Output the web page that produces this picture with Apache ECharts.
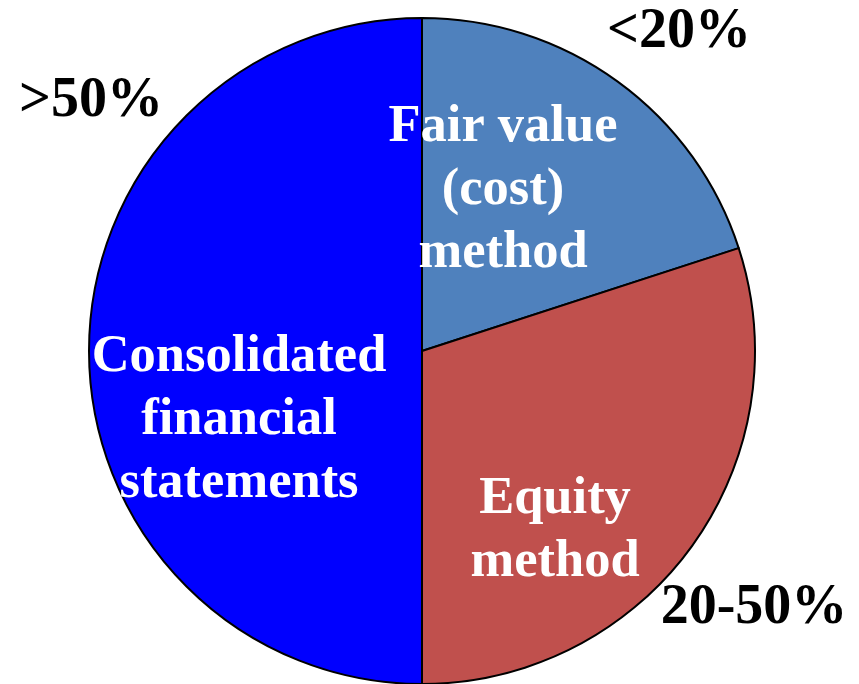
<!DOCTYPE html>
<html>
<head>
<meta charset="utf-8">
<script src="https://cdn.jsdelivr.net/npm/echarts@6/dist/echarts.min.js"></script>
<style>html,body{margin:0;padding:0;background:#fff}#c{width:859px;height:684px}</style>
</head>
<body>
<div id="c"></div>
<script>
const categories = ['Fair value\n(cost)\nmethod', 'Equity\nmethod', 'Consolidated\nfinancial\nstatements'];
const values = [20, 30, 50];
const rangeLabels = ['<20%', '20-50%', '>50%'];
const colors = ['#4F81BD', '#C0504D', '#0000FF'];

const innerPos = [[503, 190], [555, 531], [239, 420]];
const outerPos = [[679, 33], [754, 609], [91, 102]];

const chart = echarts.init(document.getElementById('c'), null, {renderer: 'canvas'});
const font = {fontFamily: 'Liberation Serif', fontWeight: 'bold', fontSize: 52.5, lineHeight: 63};
chart.setOption({
  animation: false,
  series: [
    {
      type: 'pie',
      center: [422, 351],
      radius: 333,
      startAngle: 90,
      clockwise: true,
      silent: true,
      data: categories.map((c, i) => ({name: c, value: values[i], itemStyle: {color: colors[i]}})),
      itemStyle: {borderColor: '#000', borderWidth: 2},
      label: Object.assign({show: true, position: 'inside', color: '#fff', formatter: '{b}', align: 'center'}, font),
      labelLine: {show: false},
      labelLayout: p => ({x: innerPos[p.dataIndex][0], y: innerPos[p.dataIndex][1], align: 'center', verticalAlign: 'middle'})
    },
    {
      type: 'pie',
      center: [422, 351],
      radius: 333,
      startAngle: 90,
      clockwise: true,
      silent: true,
      z: 5,
      data: rangeLabels.map((c, i) => ({name: c, value: values[i]})),
      itemStyle: {color: 'rgba(0,0,0,0)', borderWidth: 0},
      label: Object.assign({show: true, position: 'inside', color: '#000', formatter: '{b}'}, font, {fontSize: 56}),
      labelLine: {show: false},
      labelLayout: p => ({x: outerPos[p.dataIndex][0], y: outerPos[p.dataIndex][1], align: 'center', verticalAlign: 'middle'})
    }
  ]
});
</script>
</body>
</html>
